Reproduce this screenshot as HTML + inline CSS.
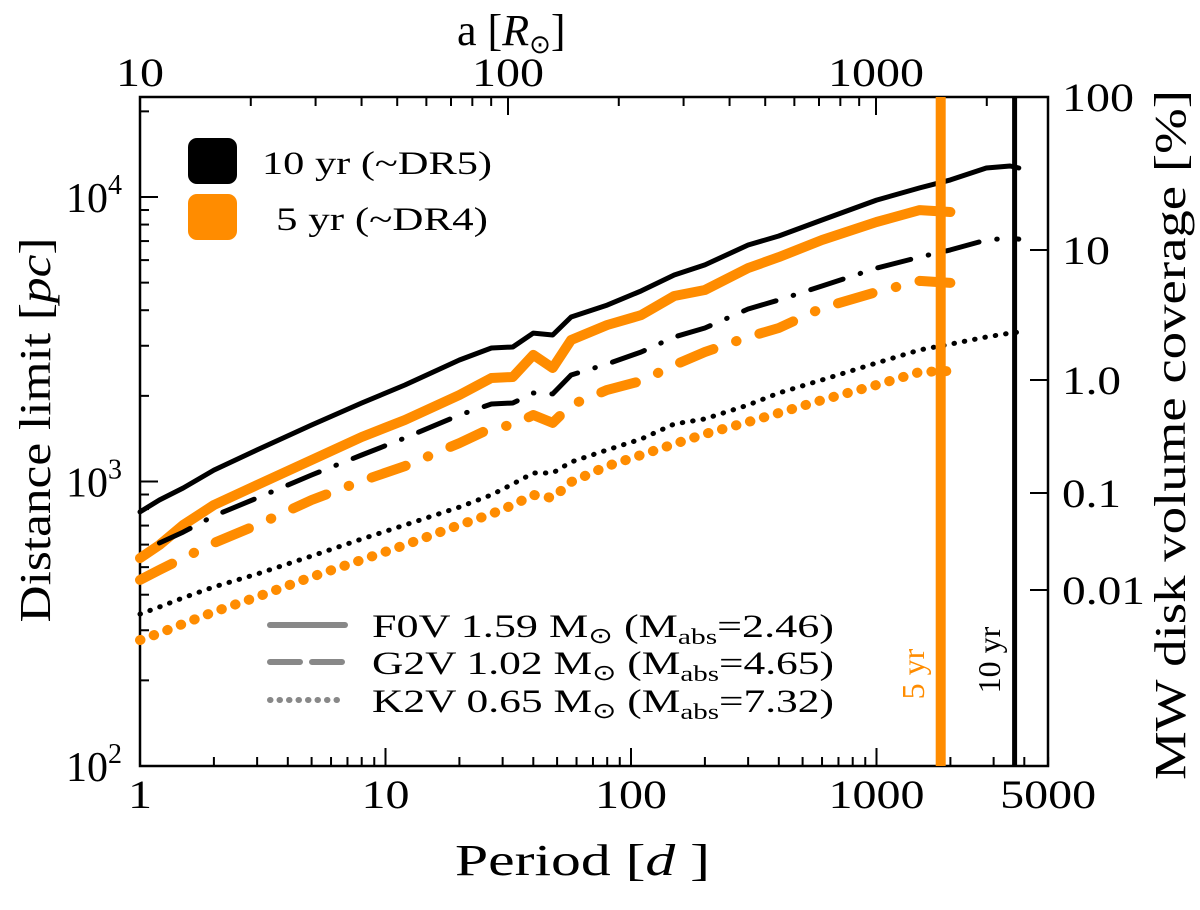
<!DOCTYPE html>
<html><head><meta charset="utf-8"><style>
body{margin:0;background:#fff}
svg{font-family:"Liberation Serif",serif}
</style></head><body>
<svg id="chart" width="1200" height="905" viewBox="0 0 1200 905"></svg>
<script>
const periods=[1,1.2,1.5,2,3,5,8,12,20,27,33,40,48,57,80,110,150,200,300,400,600,1000,1500,2000,2800,3500,3800];
const f0v10=[782,861,949,1097,1291,1580,1888,2183,2673,2945,2970,3325,3273,3785,4170,4675,5320,5770,6780,7295,8300,9750,10760,11480,12650,12850,12650];
const f0v5=[538,598,703,827,972,1190,1433,1645,2014,2311,2330,2785,2505,3143,3548,3846,4488,4710,5625,6150,7060,8170,8995,8860];
const g2v10=[null,608,664,757,875,1054,1239,1422,1713,1872,1888,2047,2032,2367,2588,2852,3220,3465,4038,4345,4866,5625,6150,6515,7060,7175,7115];
const g2v5=[451,489,538,608,703,861,1004,1133,1365,1542,1580,1713,1607,1857,2098,2256,2566,2852,3220,3465,4073,4634,5070,4989];
const k2v10=[342,362,390,426,473,547,628,703,813,897,980,1071,1071,1171,1291,1410,1592,1660,1857,2047,2275,2610,2900,3040,3220,3325,3350];
const k2v5=[277,293,316,348,393,462,530,598,703,769,827,897,875,996,1133,1239,1355,1469,1618,1741,1933,2183,2426,2445];
const xTicks=[1,10,100,1000,5000];
const yTicks=[100,1000,10000];
const yTickLabels=["2","3","4"];
const aTicks=[10,100,1000];
const mission=[1826,3652];

const svg=document.getElementById('chart');
const NS='http://www.w3.org/2000/svg';
const L=140,R=1048,T=97,B=766;
const X=p=>L+Math.log10(p)*245.5;
const Y=d=>B-(Math.log10(d)-2)*284.5;
const AX=a=>L+368*Math.log10(a/10);
function el(tag,attrs,parent){const e=document.createElementNS(NS,tag);for(const k in attrs)e.setAttribute(k,attrs[k]);(parent||svg).appendChild(e);return e;}
function txt(s,attrs){const e=el('text',attrs);e.textContent=s;return e;}
function numLen(s){let w=0;for(const c of s)w+=(c==='.'?11:24);return w;}

const frame=el('rect',{x:L,y:T,width:R-L,height:B-T,fill:'none',stroke:'#000','stroke-width':2.5});



for(let dec=0;dec<4;dec++){for(let m=1;m<10;m++){const p=m*Math.pow(10,dec);if(p>5000)break;const x=X(p);const len=m===1?18:9;
 const t=el('line',{x1:x,y1:B,x2:x,y2:B-len,stroke:'#000','stroke-width':2});
 
 }}
for(let dec=1;dec<4;dec++){for(let m=1;m<10;m++){const a=m*Math.pow(10,dec);const x=AX(a);if(x>R)break;const len=m===1?18:9;
 const t=el('line',{x1:x,y1:T,x2:x,y2:T+len,stroke:'#000','stroke-width':2});
 
 }}
for(let dec=2;dec<5;dec++){for(let m=1;m<10;m++){const d=m*Math.pow(10,dec);const y=Y(d);if(y<T)break;const len=m===1?18:9;
 const t=el('line',{x1:L,y1:y,x2:L+len,y2:y,stroke:'#000','stroke-width':2});
 
 }}
const rightTickY=[250,380,493,590];
rightTickY.forEach(y=>{const t=el('line',{x1:R,y1:y,x2:R-18,y2:y,stroke:'#000','stroke-width':2});
 
 });

xTicks.forEach(p=>{const s=String(p);const t=txt(s,{x:X(p),y:808,'font-size':40,'text-anchor':'middle',textLength:numLen(s),lengthAdjust:'spacingAndGlyphs'});
 
 });
yTicks.forEach((d,i)=>{const t=el('text',{x:122,y:Y(d)+15,'font-size':42,'text-anchor':'end'});t.textContent='10';
 const s=el('tspan',{dy:-18,'font-size':28},t);s.textContent=yTickLabels[i];
 
 });
aTicks.forEach(a=>{const s=String(a);const t=txt(s,{x:AX(a),y:86,'font-size':40,'text-anchor':'middle',textLength:numLen(s),lengthAdjust:'spacingAndGlyphs'});
 
 });
const rightLabels=["100","10","1.0","0.1","0.01"];
const rightLabelY=[97,250,380,493,590];
rightLabels.forEach((s,i)=>{const t=txt(s,{x:1062,y:rightLabelY[i]+14,'font-size':40,textLength:numLen(s),lengthAdjust:'spacingAndGlyphs'});
 
 });

let t=txt('',{x:455,y:875,'font-size':44,textLength:255,lengthAdjust:'spacingAndGlyphs'});t.innerHTML='Period [<tspan font-style="italic">d</tspan> ]';

t=txt('',{x:457,y:45,'font-size':44});t.innerHTML='a [<tspan font-style="italic">R</tspan><tspan font-size="26" dy="8">⊙</tspan><tspan dy="-8">]</tspan>';

t=txt('',{x:0,y:0,'font-size':44,'text-anchor':'middle',textLength:385,lengthAdjust:'spacingAndGlyphs',transform:'translate(50,430) rotate(-90)'});t.innerHTML='Distance limit [<tspan font-style="italic">pc</tspan>]';

t=txt('MW disk volume coverage [%]',{x:0,y:0,'font-size':44,'text-anchor':'middle',textLength:690,lengthAdjust:'spacingAndGlyphs',transform:'translate(1185,435) rotate(-90)'});


function series(vals,color,w,dash,name){const pts=[];vals.forEach((v,i)=>{if(v!=null)pts.push(X(periods[i]).toFixed(1)+','+Y(v).toFixed(1));});
 const a={points:pts.join(' '),fill:'none',stroke:color,'stroke-width':w,'stroke-linejoin':'round','stroke-linecap':'round'};if(dash)a['stroke-dasharray']=dash;
 const p=el('polyline',a);
 
 }
const OR='#ff8c00';
series(f0v10,'#000',5,null,'f0v-10yr-line');
series(f0v5,OR,10,null,'f0v-5yr-line');
series(g2v10,'#000',5,'34 18 0.5 18','g2v-10yr-line');
series(g2v5,OR,10,'36 24 0.5 24','g2v-5yr-line');
series(k2v10,'#000',5,'0.5 10','k2v-10yr-line');
series(k2v5,OR,10,'0.5 14','k2v-5yr-line');

let v=el('line',{x1:X(mission[0]),y1:T,x2:X(mission[0]),y2:B,stroke:OR,'stroke-width':10});

v=el('line',{x1:X(mission[1]),y1:T,x2:X(mission[1]),y2:B,stroke:'#000','stroke-width':5});

t=txt('5 yr',{x:0,y:0,'font-size':32,fill:OR,'text-anchor':'middle',transform:'translate(924,674) rotate(-90)'});

t=txt('10 yr',{x:0,y:0,'font-size':32,fill:'#000','text-anchor':'middle',transform:'translate(1000,660) rotate(-90)'});


let r=el('rect',{x:188,y:138,width:49,height:46,rx:9,fill:'#000'});

t=txt('10 yr (~DR5)',{x:262,y:174,'font-size':33,textLength:230,lengthAdjust:'spacingAndGlyphs'});

r=el('rect',{x:188,y:194,width:49,height:46,rx:9,fill:OR});

t=txt('5 yr (~DR4)',{x:276,y:230,'font-size':33,textLength:212,lengthAdjust:'spacingAndGlyphs'});


const legRows=[['F0V 1.59','2.46',null,625],['G2V 1.02','4.65','30 12',662],['K2V 0.65','7.32','0.5 9',700]];
legRows.forEach((row,i)=>{const a={x1:270,y1:row[3],x2:345,y2:row[3],stroke:'#888','stroke-width':6,'stroke-linecap':'round'};if(row[2])a['stroke-dasharray']=row[2];
 const l=el('line',a);
 
 
 const tt=txt('',{x:372,y:row[3]+12,'font-size':33,textLength:462,lengthAdjust:'spacingAndGlyphs'});
 tt.innerHTML=row[0]+' M<tspan font-size="22" dy="6">⊙</tspan><tspan dy="-6"> (M</tspan><tspan font-size="22" dy="7">abs</tspan><tspan dy="-7">='+row[1]+')</tspan>';
 
 });
</script>
</body></html>
